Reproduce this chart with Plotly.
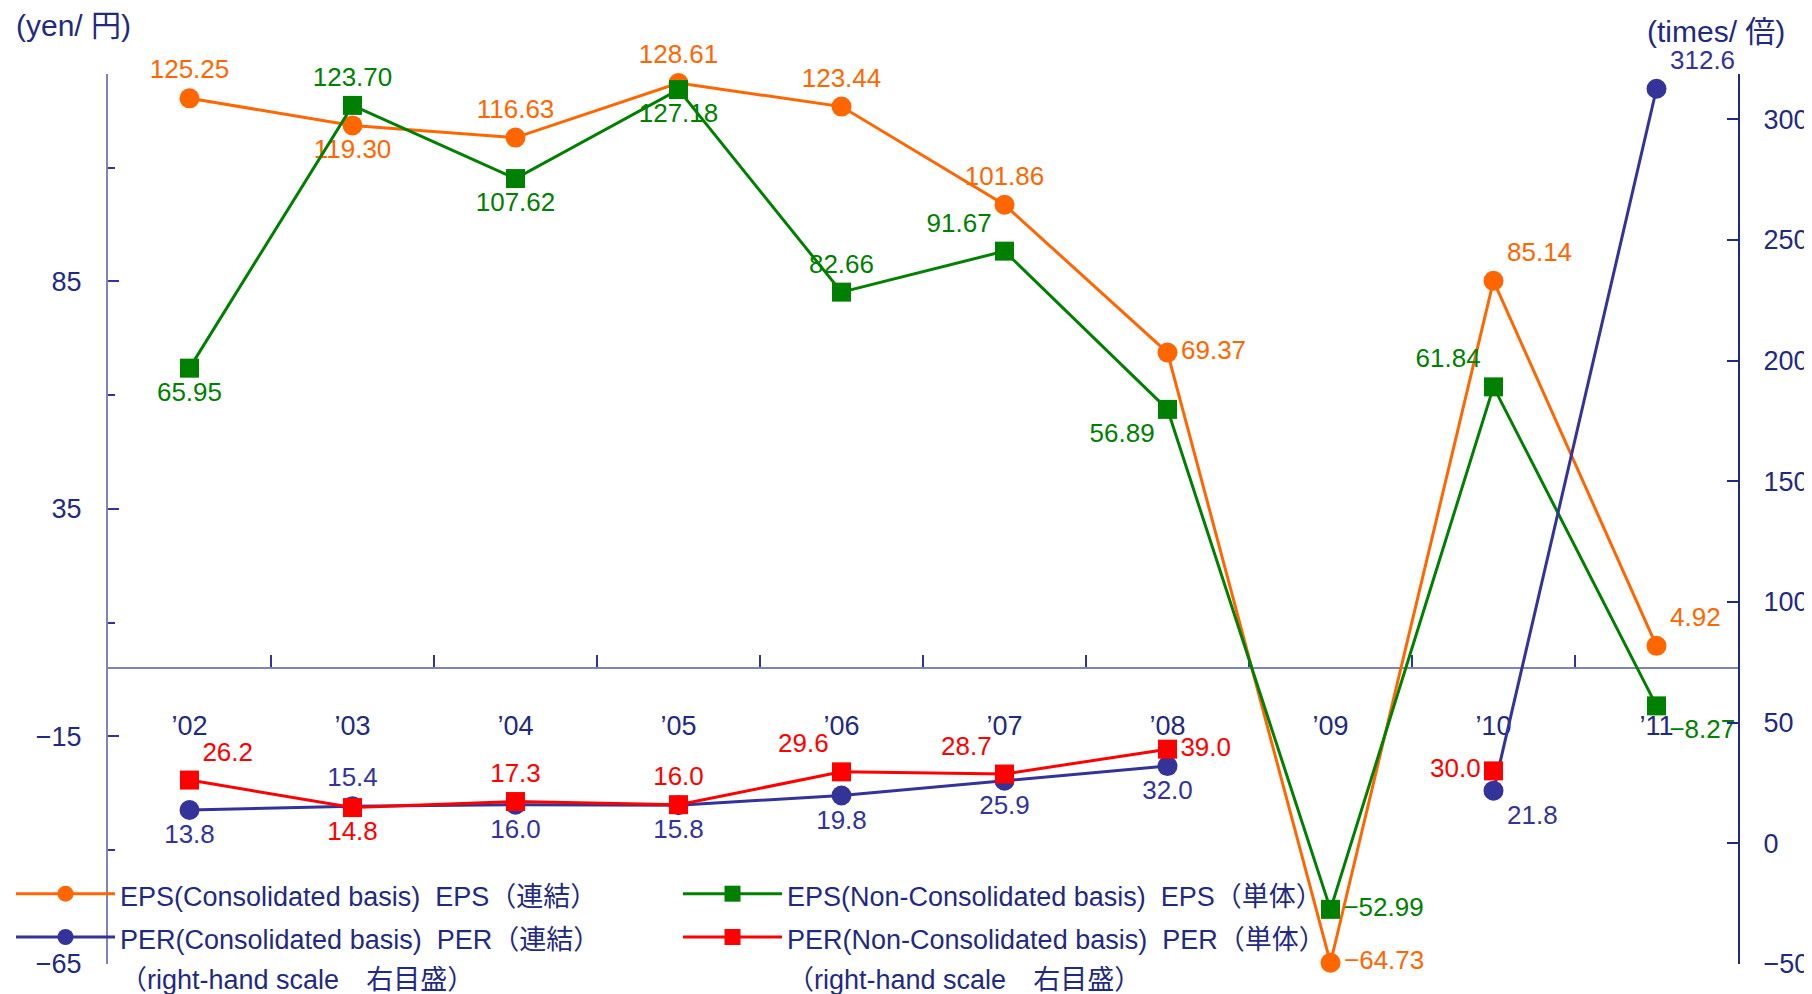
import plotly.graph_objects as go

# ---------- Data ----------
years = ["’02", "’03", "’04", "’05", "’06", "’07", "’08", "’09", "’10", "’11"]

eps_consolidated = [125.25, 119.30, 116.63, 128.61, 123.44, 101.86, 69.37, -64.73, 85.14, 4.92]
eps_non_consolidated = [65.95, 123.70, 107.62, 127.18, 82.66, 91.67, 56.89, -52.99, 61.84, -8.27]
per_consolidated = [13.8, 15.4, 16.0, 15.8, 19.8, 25.9, 32.0, None, 21.8, 312.6]
per_non_consolidated = [26.2, 14.8, 17.3, 16.0, 29.6, 28.7, 39.0, None, 30.0, None]

left_ticks = [-65, -15, 35, 85]
left_minor_ticks = [-40, 10, 60, 110]
right_ticks = [-50, 0, 50, 100, 150, 200, 250, 300]

# ---------- Style ----------
FONT = "Liberation Sans, Arial, Noto Sans CJK JP"
NAVY = "#1f2a80"
AXIS_LIGHT = "#7c84b8"
ORANGE = "#ff6600"
GREEN = "#008000"
INDIGO = "#333399"
RED = "#ff0000"

LEFT_RANGE = [-65, 130.6]
RIGHT_RANGE = [-50, 318.7]
LABEL_SIZE = 26


def fmt(values, digits):
    out = []
    for v in values:
        if v is None:
            out.append("")
        else:
            out.append(f"{v:.{digits}f}".replace("-", "−"))
    return out


def legend_name(text):
    # smaller text inside a larger legend font -> wider line spacing like the original
    return "<br>".join(f"<span style='font-size:27px'>{line}</span>" for line in text.split("<br>"))


eps_c_pos = ["top center", "bottom center", "top center", "top center", "top center",
             "top center", "middle right", "middle right", "top right", "top right"]
eps_n_pos = ["bottom center", "top center", "bottom center", "bottom center", "top center",
             "top left", "bottom left", "middle right", "top left", "bottom right"]
per_c_pos = ["bottom center", "top center", "bottom center", "bottom center", "bottom center",
             "bottom center", "bottom center", "bottom center", "bottom right", "top right"]
per_n_pos = ["top right", "bottom center", "top center", "top center", "top left",
             "top left", "middle right", "middle right", "middle left", "top center"]

fig = go.Figure()

fig.add_trace(go.Scatter(
    x=years, y=eps_consolidated,
    name=legend_name("EPS(Consolidated basis)\u00a0\u00a0EPS（連結）"),
    mode="lines+markers+text",
    line=dict(color=ORANGE, width=3),
    marker=dict(symbol="circle", size=20, color=ORANGE),
    text=fmt(eps_consolidated, 2), textposition=eps_c_pos,
    textfont=dict(color=ORANGE, size=LABEL_SIZE),
    cliponaxis=False,
))

fig.add_trace(go.Scatter(
    x=years, y=eps_non_consolidated,
    name=legend_name("EPS(Non-Consolidated basis)\u00a0\u00a0EPS（単体）"),
    mode="lines+markers+text",
    line=dict(color=GREEN, width=3),
    marker=dict(symbol="square", size=19, color=GREEN),
    text=fmt(eps_non_consolidated, 2), textposition=eps_n_pos,
    textfont=dict(color=GREEN, size=LABEL_SIZE),
    cliponaxis=False,
))

fig.add_trace(go.Scatter(
    x=years, y=per_consolidated, yaxis="y2",
    name=legend_name("PER(Consolidated basis)\u00a0\u00a0PER（連結）<br>（right-hand scale\u3000右目盛）"),
    mode="lines+markers+text",
    line=dict(color=INDIGO, width=3),
    marker=dict(symbol="circle", size=20, color=INDIGO),
    text=fmt(per_consolidated, 1), textposition=per_c_pos,
    textfont=dict(color=INDIGO, size=LABEL_SIZE),
    cliponaxis=False,
))

fig.add_trace(go.Scatter(
    x=years, y=per_non_consolidated, yaxis="y2",
    name=legend_name("PER(Non-Consolidated basis)\u00a0\u00a0PER（単体）<br>（right-hand scale\u3000右目盛）"),
    mode="lines+markers+text",
    line=dict(color=RED, width=3),
    marker=dict(symbol="square", size=19, color=RED),
    text=fmt(per_non_consolidated, 1), textposition=per_n_pos,
    textfont=dict(color=RED, size=LABEL_SIZE),
    cliponaxis=False,
))

zero_pos = (0 - LEFT_RANGE[0]) / (LEFT_RANGE[1] - LEFT_RANGE[0])

# page body has an 8px margin, so the figure is 8px smaller than the window
fig.update_layout(
    width=1804, height=986,
    margin=dict(l=100, r=74, t=66, b=30, autoexpand=False),
    plot_bgcolor="white", paper_bgcolor="white",
    font=dict(family=FONT, size=27, color=NAVY),
    xaxis=dict(
        type="category", range=[-0.5, 9.5],
        anchor="free", position=zero_pos,
        showline=True, linecolor=AXIS_LIGHT, linewidth=2,
        ticks="inside", tickson="boundaries", ticklen=12, tickwidth=2, tickcolor=INDIGO,
        showgrid=False, zeroline=False,
        ticklabelstandoff=33, layer="below traces",
        tickfont=dict(size=27, color=NAVY),
    ),
    yaxis=dict(
        range=LEFT_RANGE, tickvals=left_ticks,
        ticks="inside", ticklen=11, tickwidth=2, tickcolor=INDIGO,
        showline=True, linecolor=AXIS_LIGHT, linewidth=2,
        showgrid=False, zeroline=False,
        ticklabelstandoff=19,
        minor=dict(tickvals=left_minor_ticks, ticks="inside", ticklen=7, tickwidth=2, tickcolor=INDIGO),
    ),
    yaxis2=dict(
        overlaying="y", side="right", range=RIGHT_RANGE, tickvals=right_ticks,
        ticks="inside", ticklen=11, tickwidth=2, tickcolor=NAVY,
        showline=True, linecolor=NAVY, linewidth=2,
        showgrid=False, zeroline=False,
        ticklabelstandoff=18,
    ),
    showlegend=True,
    legend=dict(
        orientation="h", xanchor="left", x=-0.0595, yanchor="bottom", y=-0.045,
        entrywidth=553, entrywidthmode="pixels", itemwidth=99, valign="top",
        font=dict(size=31, color=NAVY), bgcolor="rgba(0,0,0,0)",
        tracegroupgap=0,
    ),
    annotations=[
        dict(text="(yen/ 円)", xref="paper", yref="paper", x=-0.0577, y=1.055,
             xanchor="left", yanchor="middle", showarrow=False,
             font=dict(size=30, color=NAVY)),
        dict(text="(times/ 倍)", xref="paper", yref="paper", x=0.943, y=1.048,
             xanchor="left", yanchor="middle", showarrow=False,
             font=dict(size=30, color=NAVY)),
    ],
)

# no scrollbars, so the right-hand tick labels are not pushed out of the window
fig.write_html("out.html", post_script="document.body.style.overflow='hidden';")
